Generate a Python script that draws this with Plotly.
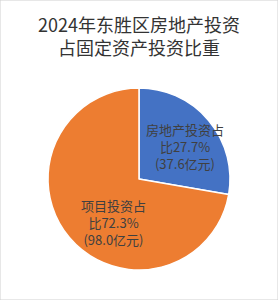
import plotly.graph_objects as go

labels = ["房地产投资", "项目投资"]
values = [37.6, 98.0]
percents = ["27.7%", "72.3%"]
colors = ["#4472C4", "#ED7D31"]

texts = [f"{l}占<br>比{p}<br>({v:.1f}亿元)" for l, p, v in zip(labels, percents, values)]
label_pos = [(185, 146), (113, 222)]  # label centres in pixels

fig = go.Figure(go.Pie(
    labels=labels, values=values,
    textinfo="none",
    sort=False, direction="clockwise", rotation=0,
    marker=dict(colors=colors, line=dict(color="white", width=1.5)),
    domain=dict(x=[48/278, 230/278], y=[1-270/300, 1-88/300]),
    showlegend=False, hoverinfo="skip",
))
annotations = [dict(text="2024年东胜区房地产投资<br>占固定资产投资比重", x=0.5, xref="paper",
                    y=1-9/300, yref="paper", xanchor="center", yanchor="top", showarrow=False,
                    font=dict(family="Noto Sans CJK SC", size=18, color="#333333"))]
for t, (px, py) in zip(texts, label_pos):
    annotations.append(dict(text=t, x=px/278, y=1-py/300, xref="paper", yref="paper",
                            xanchor="center", yanchor="middle", showarrow=False,
                            font=dict(family="Noto Sans CJK SC", size=13, color="#404040")))
fig.update_layout(
    width=278, height=300, margin=dict(l=0, r=0, t=0, b=0),
    paper_bgcolor="white",
    annotations=annotations,
    shapes=[dict(type="rect", xref="paper", yref="paper", x0=0, y0=0, x1=1, y1=1,
                 line=dict(color="#D0D0D0", width=1))],
)
fig.write_html("out.html")
